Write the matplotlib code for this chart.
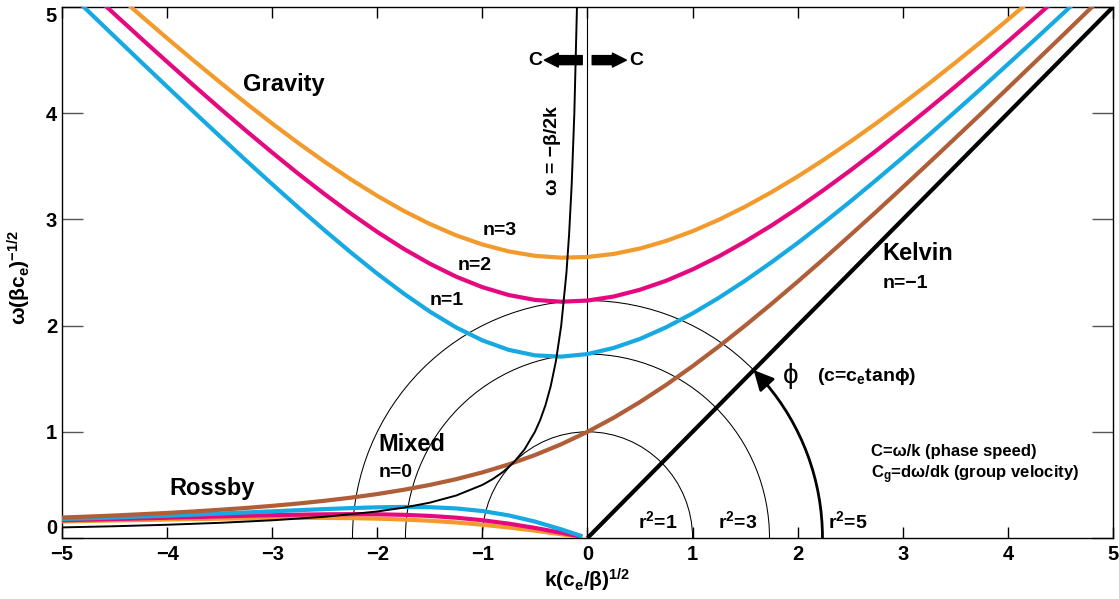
#!/usr/bin/env python3
"""
Equatorial shallow-water wave dispersion diagram (nondimensional).

Gravity / Rossby branches for n=1..3, mixed Rossby-gravity (n=0),
Kelvin (n=-1), the omega=-beta/2k line and r^2 = const semicircles.
"""

import matplotlib

matplotlib.use("Agg")
import matplotlib.pyplot as plt
import numpy as np
from matplotlib.patches import Arc

OUT_PNG = "out.png"

ORANGE = "#F39A2C"
MAGENTA = "#E5097F"
CYAN = "#17A9E1"
BROWN = "#B05E38"

# wavenumber grid for gravity and mixed branches
K_FULL = [-5.0, -4.75, -4.5, -4.25, -4.0, -3.75, -3.5, -3.25, -3.0, -2.75,
          -2.5, -2.25, -2.0, -1.75, -1.5, -1.25, -1.0, -0.75, -0.5, -0.25,
          0.0, 0.25, 0.5, 0.75, 1.0, 1.25, 1.5, 1.75, 2.0, 2.25,
          2.5, 2.75, 3.0, 3.25, 3.5, 3.75, 4.0, 4.25, 4.5, 4.75, 5.0]

GRAV_N1 = [5.200, 4.960, 4.722, 4.485, 4.250, 4.016, 3.785, 3.556, 3.332, 3.111,
           2.896, 2.688, 2.489, 2.303, 2.132, 1.983, 1.861, 1.772, 1.720, 1.708,
           1.732, 1.790, 1.875, 1.985, 2.115, 2.262, 2.423, 2.596, 2.778, 2.970,
           3.168, 3.373, 3.583, 3.797, 4.015, 4.236, 4.461, 4.687, 4.916, 5.146, 5.379]
GRAV_N2 = [5.392, 5.162, 4.933, 4.707, 4.484, 4.264, 4.048, 3.836, 3.630, 3.429,
           3.237, 3.054, 2.882, 2.724, 2.583, 2.461, 2.362, 2.288, 2.242, 2.225,
           2.236, 2.274, 2.338, 2.423, 2.529, 2.652, 2.791, 2.942, 3.105, 3.279,
           3.460, 3.649, 3.845, 4.046, 4.251, 4.461, 4.675, 4.892, 5.112, 5.334, 5.559]
GRAV_N3 = [5.577, 5.355, 5.136, 4.919, 4.706, 4.498, 4.294, 4.095, 3.903, 3.718,
           3.542, 3.376, 3.222, 3.081, 2.957, 2.850, 2.764, 2.699, 2.657, 2.640,
           2.646, 2.675, 2.726, 2.798, 2.889, 2.997, 3.120, 3.256, 3.404, 3.563,
           3.731, 3.907, 4.091, 4.280, 4.476, 4.676, 4.881, 5.090, 5.301, 5.515, 5.733]
MIXED_N0 = [0.193, 0.202, 0.212, 0.224, 0.236, 0.250, 0.266, 0.283, 0.303, 0.325,
            0.351, 0.380, 0.414, 0.454, 0.500, 0.554, 0.618, 0.693, 0.781, 0.883,
            1.000, 1.133, 1.281, 1.443, 1.618, 1.804, 2.000, 2.204, 2.414, 2.630,
            2.851, 3.075, 3.303, 3.533, 3.766, 4.000, 4.236, 4.474, 4.712, 4.952, 5.193]

# westward-only Rossby branches
K_ROSSBY = [-5.0, -4.75, -4.5, -4.25, -4.0, -3.75, -3.5, -3.25, -3.0, -2.75,
            -2.5, -2.25, -2.0, -1.75, -1.5, -1.25, -1.0, -0.75, -0.5, -0.25, -0.05]
ROSS_N1 = [0.1788, 0.1861, 0.1939, 0.2022, 0.2110, 0.2204, 0.2303, 0.2407, 0.2513, 0.2621,
           0.2725, 0.2818, 0.2892, 0.2928, 0.2904, 0.2787, 0.2541, 0.2132, 0.1550, 0.0818, 0.0167]
ROSS_N2 = [0.1668, 0.1725, 0.1784, 0.1846, 0.1908, 0.1971, 0.2034, 0.2094, 0.2150, 0.2197,
           0.2232, 0.2247, 0.2234, 0.2183, 0.2081, 0.1915, 0.1674, 0.1353, 0.0954, 0.0494, 0.0100]
ROSS_N3 = [0.1564, 0.1608, 0.1653, 0.1698, 0.1741, 0.1783, 0.1821, 0.1854, 0.1879, 0.1893,
           0.1892, 0.1871, 0.1824, 0.1744, 0.1626, 0.1464, 0.1252, 0.0993, 0.0690, 0.0354, 0.0071]

# omega = -beta/2k
K_HALF = [-5.0, -4.5, -4.0, -3.5, -3.0, -2.5, -2.0, -1.75, -1.5, -1.25, -1.0, -0.9, -0.8,
          -0.7, -0.6, -0.5, -0.45, -0.4, -0.35, -0.3, -0.25, -0.2, -0.175, -0.15, -0.125, -0.1]
W_HALF = [0.100, 0.111, 0.125, 0.143, 0.167, 0.200, 0.250, 0.286, 0.333, 0.400, 0.500, 0.556,
          0.625, 0.714, 0.833, 1.000, 1.111, 1.250, 1.429, 1.667, 2.000, 2.500, 2.857, 3.333,
          4.000, 5.000]

# Kelvin wave, omega = k
K_KELVIN = [0.0, 5.0]
W_KELVIN = [0.0, 5.0]

R_SQUARED = [1, 3, 5]
R_LABEL_K = [0.67, 1.43, 2.48]
PHI_DEG = 45.0  # angle of the Kelvin line

X_TICKS = [-5, -4, -3, -2, -1, 0, 1, 2, 3, 4, 5]
Y_TICKS = [0, 1, 2, 3, 4, 5]

PHI = "\u03d5"


def main() -> None:
    plt.rcParams["font.family"] = ["Liberation Sans", "DejaVu Sans"]
    plt.rcParams["font.weight"] = "bold"
    plt.rcParams["axes.labelweight"] = "bold"
    plt.rcParams["mathtext.default"] = "regular"
    plt.rcParams["axes.linewidth"] = 1.0

    fig = plt.figure(figsize=(11.19, 5.99), dpi=100)
    ax = fig.add_axes([0.0554, 0.1018, 0.9392, 0.8865])

    # thin construction lines
    ax.axvline(0, color="k", lw=0.8, zorder=1)
    for r2 in R_SQUARED:
        r = np.sqrt(r2)
        ax.add_patch(Arc((0, 0), 2 * r, 2 * r, theta1=0, theta2=180,
                         color="k", lw=0.75, zorder=1))

    # dispersion curves
    for w, c in ((ROSS_N3, ORANGE), (ROSS_N2, MAGENTA), (ROSS_N1, CYAN)):
        ax.plot(K_ROSSBY, w, color=c, lw=3, zorder=3, solid_capstyle="butt")
    for w, c in ((GRAV_N3, ORANGE), (GRAV_N2, MAGENTA), (GRAV_N1, CYAN)):
        ax.plot(K_FULL, w, color=c, lw=3, zorder=3)
    ax.plot(K_FULL, MIXED_N0, color=BROWN, lw=3, zorder=3)
    ax.plot(K_HALF, W_HALF, color="k", lw=1.4, zorder=4)
    ax.plot(K_KELVIN, W_KELVIN, color="k", lw=3, zorder=4, solid_capstyle="butt")

    # phase-angle arrow along r^2=5
    r5 = np.sqrt(R_SQUARED[-1])
    ax.add_patch(Arc((0, 0), 2 * r5, 2 * r5, theta1=0, theta2=PHI_DEG - 4,
                     color="k", lw=2, zorder=4))
    tip = np.deg2rad(PHI_DEG)
    tail = np.deg2rad(PHI_DEG - 5)
    ax.annotate("", xy=(r5 * np.cos(tip), r5 * np.sin(tip)),
                xytext=(r5 * np.cos(tail), r5 * np.sin(tail)),
                arrowprops=dict(arrowstyle="-|>,head_length=0.6,head_width=0.3",
                                mutation_scale=20, color="k", lw=2,
                                shrinkA=0, shrinkB=0), zorder=5)

    # C arrows at top
    simple = "simple,head_length=1.0,head_width=1.0,tail_width=0.65"
    ax.annotate("", xy=(-0.41, 4.50), xytext=(-0.05, 4.50),
                arrowprops=dict(arrowstyle=simple, mutation_scale=10, color="k",
                                shrinkA=0, shrinkB=0))
    ax.annotate("", xy=(0.37, 4.50), xytext=(0.045, 4.50),
                arrowprops=dict(arrowstyle=simple, mutation_scale=10, color="k",
                                shrinkA=0, shrinkB=0))
    ax.text(-0.495, 4.50, "C", fontsize=14, ha="center", va="center")
    ax.text(0.465, 4.50, "C", fontsize=14, ha="center", va="center")

    # labels
    big = 17
    ax.text(-2.89, 4.27, "Gravity", fontsize=big, ha="center", va="center")
    ax.text(-3.57, 0.47, "Rossby", fontsize=big, ha="center", va="center")
    ax.text(-1.99, 0.88, "Mixed", fontsize=big, ha="left", va="center")
    ax.text(-1.99, 0.615, "n=0", fontsize=14, ha="left", va="center")
    ax.text(2.81, 2.68, "Kelvin", fontsize=big, ha="left", va="center")
    ax.text(2.81, 2.40, "n=\u22121", fontsize=14, ha="left", va="center")
    ax.text(-0.84, 2.90, "n=3", fontsize=14, ha="center", va="center")
    ax.text(-1.075, 2.57, "n=2", fontsize=14, ha="center", va="center")
    ax.text(-1.34, 2.24, "n=1", fontsize=14, ha="center", va="center")
    ax.text(-0.335, 3.65, "\u03c9 = \u2212\u03b2/2k", fontsize=14, rotation=90,
            ha="center", va="center")
    for r2, kx in zip(R_SQUARED, R_LABEL_K):
        ax.text(kx, 0.16, f"r$^2$={r2}", fontsize=14, ha="center", va="center")
    ax.text(1.93, 1.53, PHI, fontsize=20, fontweight="normal",
            ha="center", va="center")
    ax.text(2.18, 1.475, f"(c=c$_e$tan{PHI})", fontsize=14, ha="left", va="baseline")
    ax.text(2.70, 0.775, "C=\u03c9/k (phase speed)", fontsize=12,
            ha="left", va="baseline")
    ax.text(2.70, 0.56, "C$_g$=d\u03c9/dk (group velocity)", fontsize=12,
            ha="left", va="baseline")

    ax.set_xlim(-5, 5)
    ax.set_ylim(0, 5)
    ax.set_xticks(X_TICKS)
    ax.set_yticks(Y_TICKS)
    ax.tick_params(axis="x", direction="in", length=7.7, width=1.0, top=True,
                   pad=5, labelsize=14.5)
    ax.tick_params(axis="y", direction="in", length=15, width=1.0, right=True,
                   color="#555555", pad=3.5, labelsize=14.5)
    ylabels = ax.get_yticklabels()
    ylabels[0].set_verticalalignment("bottom")
    ylabels[-1].set_verticalalignment("top")

    ax.set_xlabel("k(c$_e$/\u03b2)$^{1/2}$", fontsize=15, va="top")
    ax.xaxis.set_label_coords(0.5, -0.055)
    ax.set_ylabel("\u03c9(\u03b2c$_e$)$^{-1/2}$", fontsize=15)
    ax.yaxis.set_label_coords(-0.028, 0.49)

    fig.savefig(OUT_PNG, dpi=100, facecolor="white")
    plt.close(fig)


if __name__ == "__main__":
    main()
